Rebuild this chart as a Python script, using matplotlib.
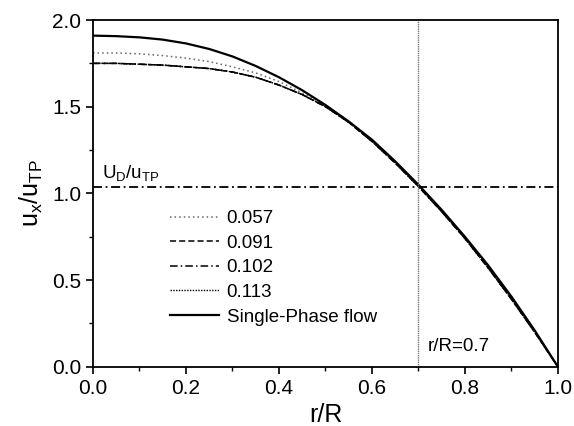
import matplotlib.pyplot as plt
from matplotlib.ticker import MultipleLocator

plt.rcParams['font.family'] = ['Liberation Sans', 'DejaVu Sans']
plt.rcParams['mathtext.default'] = 'regular'

# velocity profiles
r = [0.0, 0.05, 0.1, 0.15, 0.2, 0.25, 0.3, 0.35, 0.4, 0.45, 0.5,
     0.55, 0.6, 0.65, 0.7, 0.75, 0.8, 0.85, 0.9, 0.95, 1.0]
u_057 = [1.81, 1.81, 1.805, 1.795, 1.78, 1.76, 1.73, 1.695, 1.645, 1.58, 1.505,
         1.415, 1.305, 1.18, 1.04, 0.895, 0.745, 0.575, 0.395, 0.20, 0.0]
u_091 = [1.75, 1.75, 1.745, 1.74, 1.73, 1.72, 1.70, 1.67, 1.625, 1.57, 1.50,
         1.41, 1.30, 1.175, 1.04, 0.895, 0.74, 0.57, 0.39, 0.20, 0.0]
u_102 = [1.75, 1.75, 1.745, 1.74, 1.73, 1.72, 1.70, 1.67, 1.625, 1.57, 1.50,
         1.41, 1.30, 1.175, 1.04, 0.895, 0.74, 0.57, 0.39, 0.20, 0.0]
u_113 = [1.75, 1.75, 1.745, 1.74, 1.73, 1.72, 1.70, 1.67, 1.625, 1.57, 1.50,
         1.41, 1.30, 1.175, 1.04, 0.895, 0.74, 0.57, 0.39, 0.20, 0.0]
u_single = [1.91, 1.907, 1.90, 1.887, 1.865, 1.833, 1.79, 1.735, 1.67, 1.595, 1.51,
            1.415, 1.31, 1.185, 1.05, 0.905, 0.75, 0.585, 0.405, 0.21, 0.0]
u_drift = 1.035
r_mark = 0.7

fig, ax = plt.subplots(figsize=(5.74, 4.26), dpi=100)
fig.subplots_adjust(left=0.162, right=0.972, top=0.953, bottom=0.139)

ax.plot(r, u_057, color='#666666', ls=(0, (1, 2)), lw=1.1, label='0.057')
ax.plot(r, u_091, color='black', ls=(0, (4, 2)), lw=1.1, label='0.091')
ax.plot(r, u_102, color='black', ls=(0, (5, 2, 1, 2)), lw=1.1, label='0.102')
ax.plot(r, u_113, color='black', ls=(0, (1, 1)), lw=1.0, label='0.113')
ax.plot(r, u_single, color='black', ls='-', lw=1.6, label='Single-Phase flow')

ax.axhline(u_drift, color='black', ls=(0, (5, 2, 1, 2)), lw=1.3)
ax.axvline(r_mark, color='#777777', ls=(0, (1, 0.6)), lw=1.0)

ax.text(0.02, 1.09, r'$U_D/u_{TP}$', fontsize=13.5)
ax.text(0.72, 0.09, 'r/R=0.7', fontsize=13.5)

ax.set_xlim(0, 1.0)
ax.set_ylim(0, 2.0)
ax.xaxis.set_major_locator(MultipleLocator(0.2))
ax.xaxis.set_minor_locator(MultipleLocator(0.1))
ax.yaxis.set_major_locator(MultipleLocator(0.5))
ax.yaxis.set_minor_locator(MultipleLocator(0.25))
ax.tick_params(which='major', direction='out', length=5, width=1.2, labelsize=15)
ax.tick_params(which='minor', direction='out', length=3, width=1.0)
ax.xaxis.set_major_formatter(plt.FormatStrFormatter('%.1f'))
ax.yaxis.set_major_formatter(plt.FormatStrFormatter('%.1f'))
for s in ax.spines.values():
    s.set_linewidth(1.3)

ax.set_xlabel('r/R', fontsize=18, labelpad=4)
ax.set_ylabel(r'$u_x/u_{TP}$', fontsize=18, labelpad=5)

ax.legend(loc='lower left', bbox_to_anchor=(0.13, 0.07), frameon=False, fontsize=13.5,
          handlelength=2.6, labelspacing=0.4, handletextpad=0.4)

plt.savefig('out.png', dpi=100)
